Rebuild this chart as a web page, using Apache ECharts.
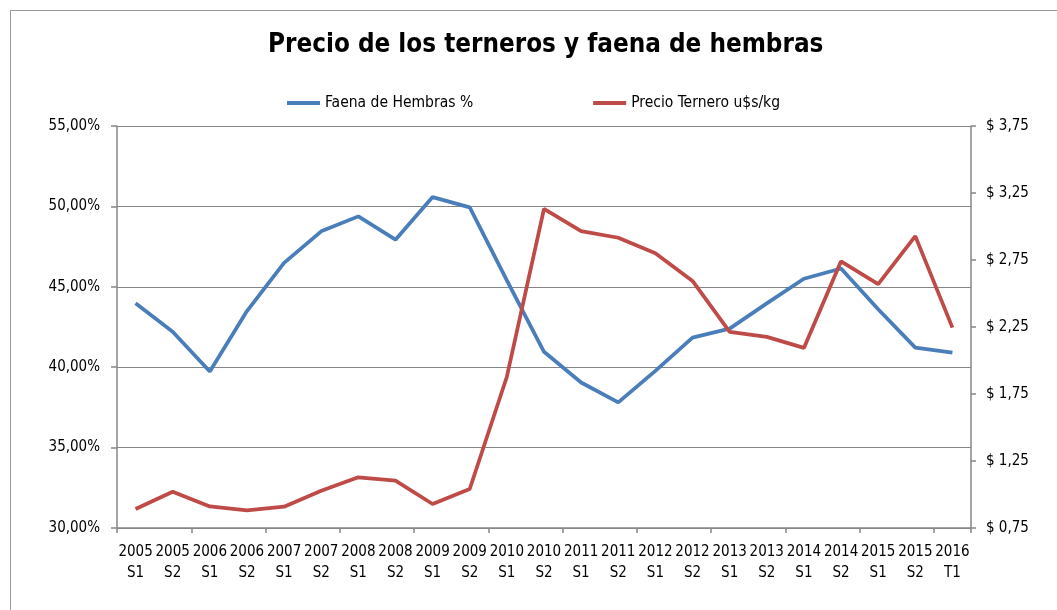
<!DOCTYPE html>
<html>
<head>
<meta charset="utf-8">
<script src="https://cdn.jsdelivr.net/npm/echarts@6/dist/echarts.min.js"></script>
<style>
  html, body { margin: 0; padding: 0; background: #fff; overflow: hidden; }
  #wrap { position: relative; width: 1057px; height: 610px; overflow: hidden; }
  #frame { position: absolute; left: 10px; top: 10px; width: 1200px; height: 800px; border: 1px solid #9a9a9a; box-sizing: border-box; }
  #chart { position: absolute; left: 0; top: 0; width: 1057px; height: 610px; }
</style>
</head>
<body>
<div id="wrap">
  <div id="frame"></div>
  <div id="chart"></div>
</div>
<script>
// ---- data ----
const categories = [
  '2005\nS1', '2005\nS2', '2006\nS1', '2006\nS2', '2007\nS1', '2007\nS2',
  '2008\nS1', '2008\nS2', '2009\nS1', '2009\nS2', '2010\nS1', '2010\nS2',
  '2011\nS1', '2011\nS2', '2012\nS1', '2012\nS2', '2013\nS1', '2013\nS2',
  '2014\nS1', '2014\nS2', '2015\nS1', '2015\nS2', '2016\nT1'
];
const seriesNames = ['Faena de Hembras %', 'Precio Ternero u$s/kg'];
const faenaHembras = [
  43.97, 42.21, 39.73, 43.49, 46.49, 48.45, 49.38, 47.93, 50.58, 49.94,
  45.40, 40.96, 39.05, 37.81, 39.77, 41.84, 42.40, 43.97, 45.50, 46.14,
  43.60, 41.22, 40.91
];
const precioTernero = [
  0.892, 1.021, 0.911, 0.882, 0.909, 1.028, 1.128, 1.103, 0.929, 1.041,
  1.879, 3.131, 2.966, 2.916, 2.800, 2.594, 2.213, 2.176, 2.094, 2.740,
  2.570, 2.928, 2.245
];
const titleText = 'Precio de los terneros y faena de hembras';

// ---- chart ----
const FONT = '"Liberation Sans Narrow", "Arial Narrow", "DejaVu Sans Condensed", sans-serif';
const AXIS_COLOR = '#868686';
const chart = echarts.init(document.getElementById('chart'), null, { renderer: 'canvas' });

const fmtNum = v => v.toFixed(2).replace('.', ',');

chart.setOption({
  animation: false,
  backgroundColor: 'transparent',
  title: {
    text: titleText,
    left: 263,
    top: 27,
    textStyle: { fontFamily: FONT, fontSize: 25.8, fontWeight: 'bold', color: '#000' }
  },
  legend: {
    data: seriesNames,
    left: 282,
    top: 90,
    itemGap: 120,
    itemWidth: 33,
    itemHeight: 4,
    icon: 'rect',
    textStyle: { fontFamily: FONT, fontSize: 15.5, color: '#000' }
  },
  grid: { left: 117, right: 86, top: 126, bottom: 82, containLabel: false },
  xAxis: {
    type: 'category',
    data: categories,
    boundaryGap: true,
    axisLine: { lineStyle: { color: AXIS_COLOR, width: 1.5 } },
    axisTick: { show: true, interval: 1, length: 5, lineStyle: { color: AXIS_COLOR, width: 1.5 } },
    axisLabel: { interval: 0, margin: 14, fontFamily: FONT, fontSize: 15, color: '#000', lineHeight: 21 }
  },
  yAxis: [
    {
      type: 'value',
      min: 30, max: 55, interval: 5,
      position: 'left',
      axisLine: { show: true, lineStyle: { color: AXIS_COLOR, width: 1.5 } },
      axisTick: { show: true, length: 6, lineStyle: { color: AXIS_COLOR, width: 1.5 } },
      splitLine: { show: true, lineStyle: { color: AXIS_COLOR, width: 1.2 } },
      axisLabel: { margin: 17, fontFamily: FONT, fontSize: 15, color: '#000', formatter: v => fmtNum(v) + '%' }
    },
    {
      type: 'value',
      min: 0.75, max: 3.75, interval: 0.5,
      position: 'right',
      axisLine: { show: true, lineStyle: { color: AXIS_COLOR, width: 1.5 } },
      axisTick: { show: true, length: 5, lineStyle: { color: AXIS_COLOR, width: 1.5 } },
      splitLine: { show: false },
      axisLabel: { margin: 15, fontFamily: FONT, fontSize: 15, color: '#000', formatter: v => '$ ' + fmtNum(v) }
    }
  ],
  series: [
    {
      name: seriesNames[0],
      type: 'line',
      yAxisIndex: 0,
      data: faenaHembras,
      showSymbol: false,
      symbol: 'none',
      lineStyle: { color: '#4A7EBB', width: 3.75 },
      itemStyle: { color: '#4A7EBB' }
    },
    {
      name: seriesNames[1],
      type: 'line',
      yAxisIndex: 1,
      data: precioTernero,
      showSymbol: false,
      symbol: 'none',
      lineStyle: { color: '#BE4B48', width: 3.75 },
      itemStyle: { color: '#BE4B48' }
    }
  ]
});
</script>
</body>
</html>
